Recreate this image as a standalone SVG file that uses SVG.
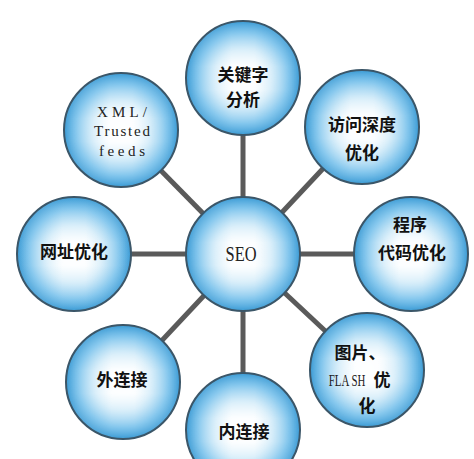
<svg xmlns="http://www.w3.org/2000/svg" width="474" height="459" viewBox="0 0 474 459">
<defs>
<linearGradient id="hg" x1="0" y1="0" x2="1" y2="0">
<stop offset="0" stop-color="#ffffff" stop-opacity="0"/>
<stop offset="0.2" stop-color="#ffffff" stop-opacity="0.45"/>
<stop offset="0.4" stop-color="#ffffff" stop-opacity="0.95"/>
<stop offset="0.6" stop-color="#ffffff" stop-opacity="0.95"/>
<stop offset="0.8" stop-color="#ffffff" stop-opacity="0.45"/>
<stop offset="1" stop-color="#ffffff" stop-opacity="0"/>
</linearGradient>
<linearGradient id="vg" x1="0" y1="0" x2="0" y2="1">
<stop offset="0" stop-color="#000"/>
<stop offset="0.2" stop-color="#777"/>
<stop offset="0.4" stop-color="#fff"/>
<stop offset="0.6" stop-color="#fff"/>
<stop offset="0.8" stop-color="#777"/>
<stop offset="1" stop-color="#000"/>
</linearGradient>
<radialGradient id="base" cx="0.5" cy="0.5" r="0.5">
<stop offset="0" stop-color="#e8f5fc"/>
<stop offset="0.5" stop-color="#a6d8f3"/>
<stop offset="0.8" stop-color="#5fb6e8"/>
<stop offset="1" stop-color="#3b9bd5"/>
</radialGradient>
<mask id="vm" maskContentUnits="objectBoundingBox">
<rect x="0" y="0" width="1" height="1" fill="url(#vg)"/>
</mask>
<g id="ball">
<circle r="57" fill="url(#base)"/>
<circle r="57" fill="url(#hg)" mask="url(#vm)"/>
<circle r="57" fill="none" stroke="#3b5668" stroke-width="2"/>
</g>
</defs>
<style>
.cn{font-family:"Noto Sans CJK SC","Noto Sans",sans-serif;font-weight:bold;font-size:17px;fill:#111;text-anchor:middle}
.en{font-family:"Liberation Serif","DejaVu Serif",serif;font-size:15px;fill:#222;text-anchor:middle}
.big{font-size:20px}
.mid{font-size:17px}
.conn{stroke:#5a5a5a;stroke-width:5;fill:none}
</style>
<rect width="474" height="459" fill="#ffffff"/>
<g id="connectors">
<line class="conn" x1="243" y1="254" x2="243" y2="78"/>
<line class="conn" x1="243" y1="254" x2="362" y2="127"/>
<line class="conn" x1="243" y1="254" x2="411" y2="254"/>
<line class="conn" x1="243" y1="254" x2="367" y2="370"/>
<line class="conn" x1="243" y1="254" x2="243" y2="430"/>
<line class="conn" x1="243" y1="254" x2="123" y2="382"/>
<line class="conn" x1="243" y1="254" x2="74" y2="254"/>
<line class="conn" x1="243" y1="254" x2="121" y2="130"/>
</g>
<g id="node-seo">
<use href="#ball" x="243" y="254"/>
<text class="en big" transform="translate(241,261) scale(0.82,1)" x="0" y="0">SEO</text>
</g>
<g id="node-keyword">
<use href="#ball" x="243" y="78"/>
<text class="cn" x="243" y="81">关键字</text>
<text class="cn" x="243" y="106">分析</text>
</g>
<g id="node-depth">
<use href="#ball" x="362" y="127"/>
<text class="cn" x="362" y="131">访问深度</text>
<text class="cn" x="362" y="159">优化</text>
</g>
<g id="node-code">
<use href="#ball" x="411" y="254"/>
<text class="cn" x="410" y="231">程序</text>
<text class="cn" x="412" y="259">代码优化</text>
</g>
<g id="node-flash">
<use href="#ball" x="367" y="370"/>
<text class="cn" x="360" y="359">图片、</text>
<text class="en mid" transform="translate(347,386) scale(0.64,1)" x="0" y="0">FLA SH</text>
<text class="cn" x="382" y="386">优</text>
<text class="cn" x="367" y="412">化</text>
</g>
<g id="node-inner">
<use href="#ball" x="243" y="430"/>
<text class="cn" x="244" y="438">内连接</text>
</g>
<g id="node-outer">
<use href="#ball" x="123" y="382"/>
<text class="cn" x="122" y="386">外连接</text>
</g>
<g id="node-url">
<use href="#ball" x="74" y="254"/>
<text class="cn" x="74" y="258">网址优化</text>
</g>
<g id="node-xml">
<use href="#ball" x="121" y="130"/>
<text class="en" x="122" y="117" textLength="50" lengthAdjust="spacing">XML/</text>
<text class="en" x="122" y="136" textLength="56" lengthAdjust="spacing">Trusted</text>
<text class="en" x="122" y="156" textLength="46" lengthAdjust="spacing">feeds</text>
</g>
</svg>
